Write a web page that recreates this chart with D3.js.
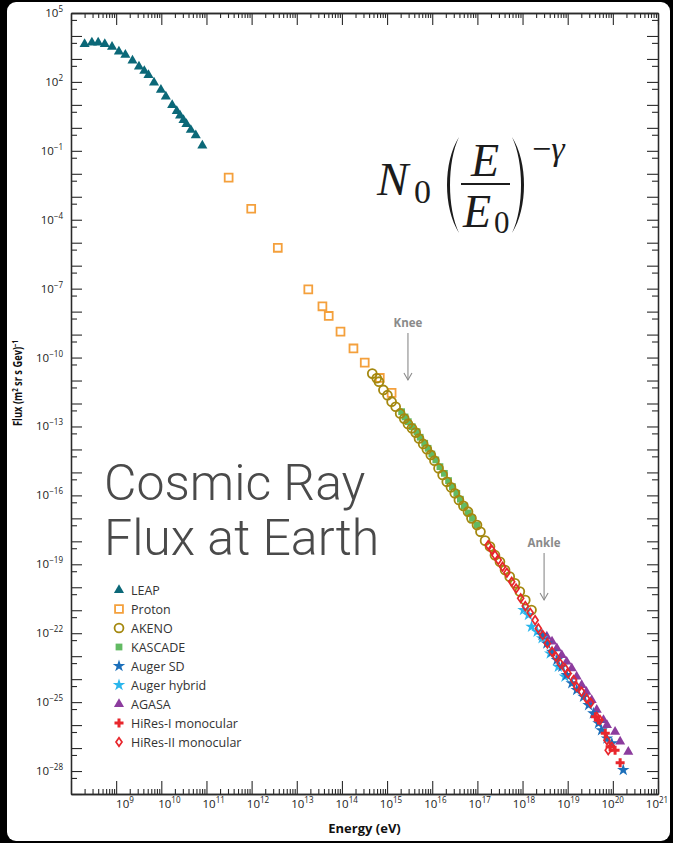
<!DOCTYPE html>
<html>
<head>
<meta charset="utf-8">
<script src="https://cdn.jsdelivr.net/npm/d3@7"></script>
<style>
  html, body { margin: 0; padding: 0; background: #000; }
  svg { display: block; }
</style>
</head>
<body>
<svg id="chart" width="673" height="843"></svg>
<script>
// ---- Data: energy (eV) and flux (m^2 sr s GeV)^-1 per experiment ----
const leapEnergy = [2.0e8, 2.9e8, 4.0e8, 5.6e8, 8.1e8, 1.15e9, 1.6e9, 2.3e9, 3.2e9, 4.2e9, 5.2e9, 6.9e9, 9.8e9, 1.26e10, 1.74e10, 2.2e10, 2.6e10, 3.1e10, 3.6e10, 4.5e10, 5.8e10, 8.1e10];
const leapFlux   = [4.4e3, 5.1e3, 5.1e3, 4.4e3, 3.4e3, 2.1e3, 1.5e3, 8.5e2, 4.7e2, 3.0e2, 2.0e2, 93, 45, 23, 9.8, 5.4, 3.4, 2.2, 1.45, 0.81, 0.47, 0.17];

const protonEnergy = [3.1e11, 9.8e11, 3.8e12, 1.8e13, 3.7e13, 5.1e13, 9.3e13, 1.8e14, 3.2e14, 6.9e14, 1.26e15];
const protonFlux   = [6.8e-3, 3.0e-4, 6.0e-6, 9.3e-8, 1.7e-8, 6.5e-9, 1.35e-9, 2.5e-10, 6.0e-11, 1.3e-11, 2.9e-12];

const akenoEnergy = [4.7e14, 5.9e14, 6.6e14, 8.3e14, 1.02e15, 1.26e15, 1.55e15, 1.95e15, 2.4e15, 2.9e15, 3.55e15, 4.3e15, 5.1e15, 6.3e15, 7.6e15, 9.3e15, 1.12e16, 1.38e16, 1.7e16, 2.1e16, 2.6e16, 3.16e16, 3.9e16, 4.9e16, 6.2e16, 7.4e16, 9.8e16, 1.17e17, 1.48e17, 1.9e17, 2.45e17, 3.16e17, 4.1e17, 5.2e17, 6.8e17, 8.7e17, 1.15e18, 1.58e18];
const akenoFlux   = [2.0e-11, 1.26e-11, 8.9e-12, 3.9e-12, 2.3e-12, 1.2e-12, 7.2e-13, 3.7e-13, 2.2e-13, 1.29e-13, 8.3e-14, 5.4e-14, 3.0e-14, 1.74e-14, 1.02e-14, 5.75e-15, 3.24e-15, 1.51e-15, 7.8e-16, 3.9e-16, 2.24e-16, 1.23e-16, 6.3e-17, 3.5e-17, 1.95e-17, 1.0e-17, 5.1e-18, 2.6e-18, 1.07e-18, 5.9e-19, 2.5e-19, 1.29e-19, 5.6e-20, 2.9e-20, 1.48e-20, 6.5e-21, 2.75e-21, 1.02e-21];

const kascadeEnergy = [2.1e15, 2.5e15, 2.95e15, 3.6e15, 4.6e15, 5.4e15, 6.8e15, 8.1e15, 9.8e15, 1.2e16, 1.48e16, 1.86e16, 2.3e16, 2.8e16, 3.5e16, 4.2e16, 5.1e16, 6.3e16, 7.8e16, 9.8e16];
const kascadeFlux   = [4.4e-13, 2.6e-13, 1.62e-13, 9.8e-14, 5.9e-14, 3.4e-14, 1.86e-14, 1.12e-14, 6.3e-15, 3.5e-15, 1.78e-15, 9.1e-16, 4.4e-16, 2.4e-16, 1.23e-16, 6.8e-17, 3.5e-17, 1.74e-17, 1.0e-17, 5.1e-18];

const augerSdEnergy = [2.7e18, 3.45e18, 4.5e18, 5.75e18, 7.4e18, 9.5e18, 1.23e19, 1.58e19, 2.24e19, 2.9e19, 3.7e19, 4.8e19, 5.6e19, 7.4e19, 9.5e19, 1.7e20];
const augerSdFlux   = [8.3e-23, 3.6e-23, 1.55e-23, 6.8e-24, 3.5e-24, 1.51e-24, 6.6e-25, 3.4e-25, 1.7e-25, 7.4e-26, 3.24e-26, 1.2e-26, 6.0e-27, 2.6e-27, 1.62e-27, 1.1e-28];

const augerHybridEnergy = [1.05e18, 1.35e18, 1.58e18, 2.1e18, 2.7e18, 4.1e18, 6.2e18, 8.7e18];
const augerHybridFlux   = [1.02e-21, 6.2e-22, 1.9e-22, 1.15e-22, 6.0e-23, 1.32e-23, 3.5e-24, 1.29e-24];

const agasaEnergy = [3.45e18, 4.5e18, 5.75e18, 7.4e18, 9.5e18, 1.23e19, 1.58e19, 2.04e19, 2.6e19, 3.4e19, 4.4e19, 6.2e19, 7.4e19, 1.12e20, 1.45e20, 2.2e20];
const agasaFlux   = [7.1e-23, 4.3e-23, 2.2e-23, 1.12e-23, 5.75e-24, 2.95e-24, 1.29e-24, 5.5e-25, 2.8e-25, 1.23e-25, 4.6e-26, 1.66e-26, 1.0e-26, 5.1e-27, 1.9e-27, 6.9e-28];

const hires1Energy = [4.1e19, 4.8e19, 6.8e19, 8.7e19, 1.12e20, 1.45e20];
const hires1Flux   = [2.3e-26, 1.66e-26, 4.4e-27, 1.15e-27, 8.1e-28, 2.3e-28];

const hires2Energy = [1.74e17, 2.1e17, 2.45e17, 2.9e17, 3.6e17, 4.5e17, 5.75e17, 7.2e17, 9.1e17, 1.15e18, 1.48e18, 1.9e18, 2.24e18, 2.8e18, 3.55e18, 4.5e18, 5.5e18, 6.8e18, 8.7e18, 1.02e19, 1.35e19, 1.58e19, 2.04e19, 2.6e19, 3.24e19, 4.4e19, 5.2e19, 7.4e19, 7.9e19, 9.5e19];
const hires2Flux   = [6.9e-19, 4.2e-19, 2.5e-19, 1.55e-19, 7.8e-20, 4.3e-20, 1.74e-20, 8.9e-21, 3.3e-21, 1.51e-21, 7.8e-22, 3.7e-22, 1.62e-22, 8.3e-23, 3.6e-23, 1.55e-23, 9.5e-24, 4.9e-24, 2.95e-24, 1.78e-24, 9.1e-25, 4.7e-25, 2.8e-25, 1.45e-25, 9.3e-26, 2.3e-26, 1.66e-26, 2.2e-27, 8.1e-28, 1.15e-27];

const seriesNames = ["LEAP", "Proton", "AKENO", "KASCADE", "Auger SD", "Auger hybrid", "AGASA", "HiRes-I monocular", "HiRes-II monocular"];

// Exponents of the labelled ticks
const xTickExponents = [9, 10, 11, 12, 13, 14, 15, 16, 17, 18, 19, 20, 21];
const yTickExponents = [5, 2, -1, -4, -7, -10, -13, -16, -19, -22, -25, -28];

// Energies marked with arrows
const kneeEnergy = 2.9e15;
const ankleEnergy = 3.0e18;

// ---- Marker styles ----
const markerStyle = {
  "LEAP":               { shape: "triangle", color: "#0b6878" },
  "Proton":             { shape: "squareOpen", color: "#f4a03c" },
  "AKENO":              { shape: "circleOpen", color: "#a4880f" },
  "KASCADE":            { shape: "squareFill", color: "#62ba63" },
  "Auger SD":           { shape: "star", color: "#1c6fba" },
  "Auger hybrid":       { shape: "star", color: "#2bb6ec" },
  "AGASA":              { shape: "triangle", color: "#8c3c9e" },
  "HiRes-I monocular":  { shape: "cross", color: "#e8262c" },
  "HiRes-II monocular": { shape: "diamondOpen", color: "#e8262c" }
};

const seriesData = {
  "LEAP": [leapEnergy, leapFlux],
  "Proton": [protonEnergy, protonFlux],
  "AKENO": [akenoEnergy, akenoFlux],
  "KASCADE": [kascadeEnergy, kascadeFlux],
  "Auger SD": [augerSdEnergy, augerSdFlux],
  "Auger hybrid": [augerHybridEnergy, augerHybridFlux],
  "AGASA": [agasaEnergy, agasaFlux],
  "HiRes-I monocular": [hires1Energy, hires1Flux],
  "HiRes-II monocular": [hires2Energy, hires2Flux]
};

// painting order (later on top)
const drawOrder = ["LEAP", "Proton", "KASCADE", "AKENO", "AGASA", "Auger hybrid", "Auger SD", "HiRes-II monocular", "HiRes-I monocular"];

// ---- Layout ----
const plot = { left: 71, right: 658, top: 13, bottom: 794 };
const svg = d3.select("#chart");
const tickFont = "'Open Sans', 'Noto Sans', sans-serif";

// page frame
svg.append("rect").attr("x", 7).attr("y", 2).attr("width", 663).attr("height", 839)
  .attr("rx", 9).attr("fill", "#fff");

const x = d3.scaleLog().domain([1e8, 1e21]).range([plot.left, plot.right]);
const y = d3.scaleLog().domain([1e-29, 1e5]).range([plot.bottom, plot.top]);
// energy tick labels sit on a slightly tighter grid than the tick marks
const xLabel = d3.scaleLog().domain([1e9, 1e21]).range([125, 657]);

const xDecades = d3.range(8, 22).map(e => Math.pow(10, e));
const xMinor = [];
d3.range(8, 21).forEach(e => { for (let k = 2; k <= 9; k++) xMinor.push(k * Math.pow(10, e)); });
const yDecades = d3.range(-29, 6).map(e => Math.pow(10, e));
const yHalves = d3.range(-29, 5).map(e => 5 * Math.pow(10, e));

const axisColor = "#2a2a2a";
function styleAxis(g) {
  g.selectAll("path.domain").attr("stroke", axisColor).attr("stroke-width", 1.3);
  g.selectAll(".tick line").attr("stroke", axisColor).attr("stroke-width", 1.1);
  g.selectAll(".tick text").remove();
}

const axes = svg.append("g");
// bottom (ticks pointing up into the plot)
axes.append("g").attr("transform", `translate(0,${plot.bottom})`)
  .call(d3.axisTop(x).tickValues(xMinor).tickSize(5).tickSizeOuter(0).tickFormat("")).call(styleAxis);
axes.append("g").attr("transform", `translate(0,${plot.bottom})`)
  .call(d3.axisTop(x).tickValues(xDecades).tickSize(13).tickSizeOuter(0).tickFormat("")).call(styleAxis);
// top (ticks pointing down)
axes.append("g").attr("transform", `translate(0,${plot.top})`)
  .call(d3.axisBottom(x).tickValues(xMinor).tickSize(5).tickSizeOuter(0).tickFormat("")).call(styleAxis);
axes.append("g").attr("transform", `translate(0,${plot.top})`)
  .call(d3.axisBottom(x).tickValues(xDecades).tickSize(12).tickSizeOuter(0).tickFormat("")).call(styleAxis);
// left (ticks pointing right)
axes.append("g").attr("transform", `translate(${plot.left},0)`)
  .call(d3.axisRight(y).tickValues(yDecades).tickSize(11).tickSizeOuter(0).tickFormat("")).call(styleAxis);
axes.append("g").attr("transform", `translate(${plot.left},0)`)
  .call(d3.axisRight(y).tickValues(yHalves).tickSize(6).tickSizeOuter(0).tickFormat("")).call(styleAxis);
// right (ticks pointing left)
axes.append("g").attr("transform", `translate(${plot.right},0)`)
  .call(d3.axisLeft(y).tickValues(yDecades).tickSize(11).tickSizeOuter(0).tickFormat("")).call(styleAxis);
axes.append("g").attr("transform", `translate(${plot.right},0)`)
  .call(d3.axisLeft(y).tickValues(yHalves).tickSize(6).tickSizeOuter(0).tickFormat("")).call(styleAxis);

// power-of-ten label: "10" with raised exponent
function powerLabel(textSel, exp) {
  textSel.append("tspan").text("10");
  textSel.append("tspan").attr("dy", -5).attr("font-size", "0.7em")
    .text(exp < 0 ? "\u2212" + (-exp) : String(exp));
}

xTickExponents.forEach(e => {
  const t = svg.append("text")
    .attr("x", xLabel(Math.pow(10, e))).attr("y", 808)
    .attr("text-anchor", "middle")
    .attr("font-family", tickFont).attr("font-size", 11.5).attr("fill", "#222");
  powerLabel(t, e);
});
yTickExponents.forEach(e => {
  const t = svg.append("text")
    .attr("x", 63).attr("y", y(Math.pow(10, e)) + 4)
    .attr("text-anchor", "end")
    .attr("font-family", tickFont).attr("font-size", 11.5).attr("fill", "#222");
  powerLabel(t, e);
});

// axis titles
svg.append("text")
  .attr("x", (plot.left + plot.right) / 2).attr("y", 833)
  .attr("text-anchor", "middle")
  .attr("font-family", tickFont).attr("font-weight", "bold").attr("font-size", 13)
  .attr("fill", "#111").text("Energy (eV)");

const yTitle = svg.append("text")
  .attr("transform", "translate(22,383) rotate(-90)")
  .attr("text-anchor", "middle")
  .attr("font-family", tickFont).attr("font-weight", "bold").attr("font-size", 12.5)
  .attr("textLength", 86).attr("lengthAdjust", "spacingAndGlyphs")
  .attr("fill", "#111");
yTitle.append("tspan").text("Flux (m");
yTitle.append("tspan").attr("dy", -4).attr("font-size", "0.65em").text("2");
yTitle.append("tspan").attr("dy", 4).text(" sr s Gev)");
yTitle.append("tspan").attr("dy", -4).attr("font-size", "0.65em").text("\u22121");

// ---- Markers ----
function markerPath(shape) {
  switch (shape) {
    case "triangle":    return d3.symbol(d3.symbolTriangle, 44)();
    case "squareOpen":  return d3.symbol(d3.symbolSquare, 62)();
    case "squareFill":  return d3.symbol(d3.symbolSquare, 46)();
    case "circleOpen":  return d3.symbol(d3.symbolCircle, 62)();
    case "star":        return d3.symbol(d3.symbolStar, 48)();
    case "cross":       return d3.symbol(d3.symbolCross, 45)();
    case "diamondOpen": return "M0,-4.3L3,0L0,4.3L-3,0Z";
  }
}
function applyMarkerStyle(sel, style) {
  const open = /Open$/.test(style.shape);
  sel.attr("d", markerPath(style.shape))
    .attr("fill", open ? "none" : style.color)
    .attr("stroke", open ? style.color : "none")
    .attr("stroke-width", style.shape === "diamondOpen" ? 1.7 : 1.8);
}

const marks = svg.append("g");
drawOrder.forEach(name => {
  const [energy, flux] = seriesData[name];
  const pts = energy.map((e, i) => ({ e, f: flux[i] }));
  marks.append("g").selectAll("path").data(pts).join("path")
    .attr("transform", d => `translate(${x(d.e)},${y(d.f)})`)
    .call(applyMarkerStyle, markerStyle[name]);
});

// ---- Knee / Ankle annotations ----
function annotate(label, energy, yText, yFrom, yTo) {
  const ax = x(energy);
  const g = svg.append("g").attr("fill", "none").attr("stroke", "#8a8a8a").attr("stroke-width", 1.1);
  svg.append("text").attr("x", ax).attr("y", yText).attr("text-anchor", "middle")
    .attr("font-family", tickFont).attr("font-weight", "bold").attr("font-size", 11.5)
    .attr("fill", "#8a8a8a").text(label);
  g.append("line").attr("x1", ax).attr("x2", ax).attr("y1", yFrom).attr("y2", yTo);
  g.append("polyline").attr("points", `${ax - 4},${yTo - 7} ${ax},${yTo} ${ax + 4},${yTo - 7}`);
}
annotate("Knee", kneeEnergy, 327, 333, 380);
annotate("Ankle", ankleEnergy, 547, 553, 600);

// ---- Legend ----
const legend = svg.append("g");
seriesNames.forEach((name, i) => {
  const ly = 590 + i * 19;
  const style = markerStyle[name];
  legend.append("path").attr("transform", `translate(119,${ly})`)
    .call(applyMarkerStyle, style);
  legend.append("text").attr("x", 131).attr("y", ly + 4.5)
    .attr("font-family", tickFont).attr("font-size", 12.5).attr("fill", "#333")
    .text(name);
});

// ---- Title ----
const titleFont = "Roboto, 'Liberation Sans', sans-serif";
svg.append("text").attr("x", 104).attr("y", 500)
  .attr("font-family", titleFont).attr("font-weight", 300).attr("font-size", 50)
  .attr("fill", "#4a4a4a").text("Cosmic Ray");
svg.append("text").attr("x", 104).attr("y", 555)
  .attr("font-family", titleFont).attr("font-weight", 300).attr("font-size", 50)
  .attr("fill", "#4a4a4a").text("Flux at Earth");

// ---- Power-law formula N0 (E/E0)^-gamma ----
const serif = "'Liberation Serif', 'DejaVu Serif', serif";
const fm = svg.append("g").attr("fill", "#1c1c1c");
fm.append("text").attr("x", 377).attr("y", 195).attr("font-family", serif)
  .attr("font-style", "italic").attr("font-size", 47).text("N");
fm.append("text").attr("x", 414).attr("y", 203).attr("font-family", serif)
  .attr("font-size", 34).text("0");
fm.append("path").attr("d", "M459,137 C443,162 443,208 459,233 C447,208 447,162 459,137Z");
fm.append("path").attr("d", "M512,137 C528,162 528,208 512,233 C524,208 524,162 512,137Z");
fm.append("text").attr("x", 485).attr("y", 176).attr("text-anchor", "middle")
  .attr("font-family", serif).attr("font-style", "italic").attr("font-size", 46).text("E");
fm.append("rect").attr("x", 461).attr("y", 183).attr("width", 49).attr("height", 2);
fm.append("text").attr("x", 463).attr("y", 227).attr("font-family", serif)
  .attr("font-style", "italic").attr("font-size", 46).text("E");
fm.append("text").attr("x", 494).attr("y", 233).attr("font-family", serif)
  .attr("font-size", 31).text("0");
const expo = fm.append("text").attr("x", 532).attr("y", 160).attr("font-family", serif).attr("font-size", 34);
expo.append("tspan").text("\u2212");
expo.append("tspan").attr("font-style", "italic").text("\u03b3");
</script>
</body>
</html>
